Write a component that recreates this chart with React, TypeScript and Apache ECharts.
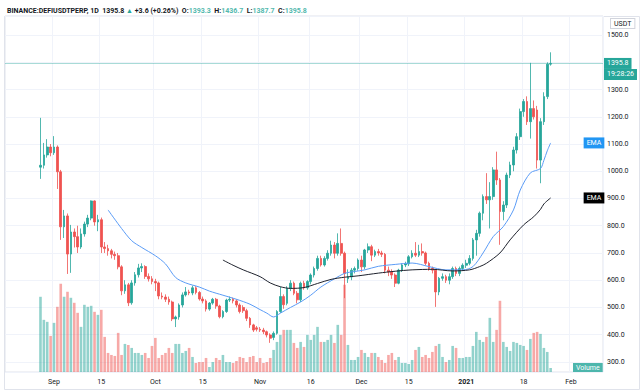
import React, { useEffect, useRef } from 'react';
import * as echarts from 'echarts';

const SYMBOL = 'BINANCE:DEFIUSDTPERP, 1D';
const CHANGE = '+3.6 (+0.26%)';
const COUNTDOWN = '19:28:26';
const CURRENCY = 'USDT';

const AXIS_START = '2020-08-18';
const AXIS_DAYS = 177;
const FIRST_CANDLE = '2020-08-28';

const OPEN = [
  1015, 1022, 1060, 1089, 1068, 1089, 998, 796, 836, 696, 777, 760, 722, 770, 806, 828, 891, 814, 822, 722,
  716, 708, 695, 690, 649, 561, 583, 517, 590, 620, 645, 650, 614, 605, 595, 590, 542, 538, 530, 520,
  458, 465, 509, 546, 557, 553, 572, 555, 531, 524, 494, 516, 530, 505, 466, 485, 527, 530, 524, 509,
  500, 488, 460, 436, 425, 420, 417, 411, 399, 390, 405, 485, 540, 515, 570, 589, 552, 528, 589, 572,
  595, 619, 643, 680, 656, 680, 699, 729, 699, 735, 699, 605, 612, 637, 643, 674, 649, 711, 723, 692,
  705, 700, 695, 637, 630, 619, 589, 637, 656, 660, 686, 699, 692, 705, 700, 662, 643, 637, 557, 607,
  613, 600, 613, 643, 625, 643, 655, 662, 680, 748, 772, 846, 907, 895, 907, 1005, 968, 852, 876, 986,
  1023, 1078, 1127, 1219, 1256, 1182, 1230, 1225, 1041, 1182, 1274, 1393.3,
];
const CLOSE = [
  1022, 1060, 1089, 1068, 1089, 998, 796, 836, 696, 777, 760, 722, 770, 806, 828, 891, 814, 822, 722, 716,
  708, 695, 690, 649, 561, 583, 517, 590, 620, 645, 650, 614, 605, 595, 590, 542, 538, 530, 520, 458,
  465, 509, 546, 557, 553, 572, 555, 531, 524, 494, 516, 530, 505, 466, 485, 527, 530, 524, 509, 485,
  488, 460, 436, 417, 420, 417, 411, 399, 387, 405, 485, 540, 510, 570, 589, 552, 528, 589, 572, 595,
  619, 643, 680, 656, 680, 699, 729, 699, 735, 699, 625, 612, 637, 643, 674, 649, 711, 723, 692, 705,
  700, 695, 637, 630, 619, 589, 637, 656, 660, 686, 699, 692, 705, 700, 662, 643, 637, 557, 607, 613,
  600, 613, 643, 625, 643, 655, 662, 680, 748, 772, 846, 907, 895, 907, 1005, 968, 852, 876, 986, 1023,
  1078, 1127, 1219, 1256, 1182, 1230, 1200, 1041, 1182, 1274, 1393.3, 1395.8,
];
const LOW = [
  972, 1010, 1050, 1055, 1060, 935, 748, 755, 623, 627, 720, 700, 715, 760, 795, 820, 800, 780, 700, 700,
  690, 680, 675, 640, 545, 550, 505, 510, 580, 610, 630, 605, 595, 585, 560, 530, 530, 520, 510, 450,
  428, 455, 500, 540, 545, 545, 548, 525, 515, 485, 488, 510, 495, 460, 460, 480, 520, 515, 500, 478,
  480, 450, 425, 410, 412, 410, 402, 390, 370, 380, 400, 480, 495, 508, 560, 545, 515, 520, 565, 565,
  585, 610, 635, 650, 650, 672, 690, 680, 690, 690, 534, 590, 600, 625, 635, 630, 640, 700, 670, 685,
  690, 685, 625, 615, 605, 575, 585, 630, 648, 652, 680, 685, 685, 690, 655, 635, 625, 502, 545, 598,
  590, 585, 605, 615, 615, 635, 645, 655, 672, 690, 760, 820, 880, 790, 895, 950, 730, 820, 865, 975,
  1000, 1065, 1115, 1200, 1170, 1120, 1190, 1010, 956, 1170, 1265, 1387.7,
];
const HIGH = [
  1196, 1104, 1118, 1100, 1129, 1095, 1005, 858, 845, 803, 790, 800, 790, 815, 840, 893, 893, 840, 830, 740,
  730, 715, 705, 700, 655, 600, 590, 600, 630, 660, 662, 655, 625, 615, 605, 595, 555, 548, 540, 525,
  470, 515, 555, 575, 565, 580, 578, 560, 540, 530, 520, 535, 535, 510, 490, 532, 540, 536, 530, 515,
  508, 495, 465, 440, 432, 428, 425, 415, 405, 412, 490, 576, 548, 578, 600, 595, 560, 595, 598, 600,
  625, 650, 690, 690, 688, 710, 745, 740, 772, 790, 705, 640, 645, 650, 680, 690, 715, 735, 730, 712,
  715, 708, 700, 650, 640, 625, 642, 662, 668, 692, 710, 740, 730, 735, 705, 668, 650, 640, 612, 625,
  620, 625, 650, 650, 650, 662, 675, 692, 755, 785, 852, 915, 993, 960, 1015, 1072, 975, 890, 995, 1035,
  1090, 1140, 1230, 1265, 1275, 1398, 1260, 1240, 1195, 1290, 1400, 1436.7,
];
const VOLUME = [
  75, 52, 50, 36, 49, 65, 88, 75, 80, 74, 69, 59, 45, 67, 65, 66, 60, 57, 62, 35, 19, 17, 16,
  39, 17, 28, 27, 24, 19, 19, 17, 19, 14, 26, 34, 14, 17, 19, 24, 19, 28, 28, 19, 21, 24, 15, 9, 10, 10,
  14, 5, 10, 14, 12, 17, 10, 10, 9, 11, 15, 14, 10, 15, 16, 10, 14, 9, 10, 14, 22, 30, 37, 42,
  42, 42, 29, 24, 30, 25, 37, 32, 37, 45, 30, 30, 32, 37, 29, 47, 37, 87, 27, 12, 12, 15, 22, 19, 15, 19,
  19, 15, 12, 9, 17, 19, 12, 15, 9, 9, 8, 12, 22, 25, 15, 17, 14, 20, 26, 28, 15, 10, 12, 26, 24,
  14, 14, 15, 15, 26, 40, 32, 30, 35, 54, 30, 42, 71, 30, 25, 21, 30, 29, 27, 26, 22, 33, 39, 40, 38, 24, 20, 4,
];

// EMA readings: day offsets (from first candle) and values
const EMA_FAST_DAYS = [20, 24, 27, 30, 34, 37, 40, 43, 47, 50, 54, 58, 62, 65, 67, 69, 71, 74, 77, 80, 83, 87, 90, 93, 96, 100, 105, 110, 115, 120, 125, 128, 131, 134, 137, 140, 142, 145, 148, 149, 150, 151];
const EMA_FAST = [858, 790, 745, 720, 690, 660, 610, 590, 575, 560, 545, 530, 512, 492, 479, 465, 479, 500, 520, 545, 575, 605, 625, 632, 638, 651, 658, 663, 650, 638, 638, 650, 700, 760, 797, 858, 931, 994, 1010, 1040, 1075, 1104];
const EMA_SLOW_DAYS = [54, 57, 60, 65, 68, 71, 74, 78, 82, 86, 90, 94, 100, 105, 110, 116, 122, 127, 130, 132, 136, 139, 143, 146, 148, 149, 151];
const EMA_SLOW = [674, 655, 638, 613, 590, 576, 570, 573, 588, 603, 611, 616, 626, 633, 638, 640, 634, 638, 650, 662, 700, 748, 803, 833, 860, 880, 902];

const TICK_DATES = ['2020-09-01', '2020-09-15', '2020-10-01', '2020-10-15', '2020-11-01', '2020-11-16', '2020-12-01', '2020-12-15', '2021-01-01', '2021-01-18', '2021-02-01'];
const TICK_LABELS = ['Sep', '15', 'Oct', '15', 'Nov', '16', 'Dec', '15', '2021', '18', 'Feb'];

const PRICE_MIN = 263;
const PRICE_MAX = 1570;
const PRICE_STEP = 100;
const VOLUME_MAX = 355;

const UP = '#26a69a';
const DOWN = '#ef5350';
const UP_VOL = 'rgba(38,166,154,0.5)';
const DOWN_VOL = 'rgba(239,83,80,0.5)';
const FONT = 'Roboto';

function buildDates(): string[] {
  const [y, m, d] = AXIS_START.split('-').map(Number);
  const out: string[] = [];
  for (let i = 0; i < AXIS_DAYS; i++) {
    out.push(new Date(Date.UTC(y, m - 1, d + i)).toISOString().slice(0, 10));
  }
  return out;
}

export default function App() {
  const ref = useRef<HTMLDivElement>(null);

  useEffect(() => {
    if (!ref.current) return;
    const chart = echarts.init(ref.current, undefined, { renderer: 'svg' });
    const dates = buildDates();
    const off = dates.indexOf(FIRST_CANDLE);
    const last = OPEN.length - 1;
    const tickSet = new Set(TICK_DATES);
    const tickFn = (_i: number, v: string) => tickSet.has(v);

    const candles = OPEN.map((o, k) => [dates[off + k], o, CLOSE[k], LOW[k], HIGH[k]]);
    const vols = VOLUME.map((v, k) => ({
      value: [dates[off + k], v],
      itemStyle: { color: CLOSE[k] >= OPEN[k] ? UP_VOL : DOWN_VOL },
    }));
    const emaFast = EMA_FAST_DAYS.map((d, i) => [dates[off + d], EMA_FAST[i]]);
    const emaSlow = EMA_SLOW_DAYS.map((d, i) => [dates[off + d], EMA_SLOW[i]]);
    const lastPrice = CLOSE[last];

    const header =
      `{n|${SYMBOL}}  {v|${CLOSE[last].toFixed(1)}} {u|▲} {v|${CHANGE}}  ` +
      `{k|O:}{g|${OPEN[last].toFixed(1)}}  {k|H:}{g|${HIGH[last].toFixed(1)}}  ` +
      `{k|L:}{g|${LOW[last].toFixed(1)}}  {k|C:}{g|${CLOSE[last].toFixed(1)}}`;

    chart.setOption({
      animation: false,
      backgroundColor: '#ffffff',
      textStyle: { fontFamily: FONT },
      title: {
        left: 2,
        top: 2,
        text: header,
        textStyle: {
          fontSize: 7,
          rich: {
            n: { fontSize: 7, fontWeight: 'bold', color: '#131722', fontFamily: FONT },
            v: { fontSize: 7, color: '#131722', fontFamily: FONT },
            u: { fontSize: 7, color: UP, fontFamily: FONT },
            k: { fontSize: 7, fontWeight: 'bold', color: '#131722', fontFamily: FONT },
            g: { fontSize: 7, color: '#53b9ae', fontFamily: FONT },
          },
        },
      },
      grid: {
        left: 5,
        right: 37,
        top: 16,
        bottom: 19,
        show: true,
        borderColor: '#e0e3eb',
        borderWidth: 1,
      },
      graphic: [
        {
          type: 'rect',
          silent: true,
          z: -1,
          shape: { x: 4.5, y: 16.5, width: 635, height: 373 },
          style: { fill: 'none', stroke: '#e0e3eb', lineWidth: 1 },
        },
        {
          type: 'text',
          x: 611,
          y: 19,
          style: {
            text: CURRENCY,
            font: `7px ${FONT}`,
            fill: '#131722',
            backgroundColor: '#ffffff',
            borderColor: '#d1d4dc',
            borderWidth: 1,
            padding: [1, 3],
          },
        },
        {
          type: 'text',
          x: 573,
          y: 363,
          style: {
            text: 'Volume',
            font: `7px ${FONT}`,
            fill: '#ffffff',
            backgroundColor: '#4db6ac',
            padding: [1, 3],
          },
        },
      ],
      xAxis: {
        type: 'category',
        data: dates,
        boundaryGap: true,
        axisLine: { show: false },
        axisTick: { show: false },
        axisLabel: {
          interval: tickFn,
          fontSize: 7,
          color: '#131722',
          margin: 6,
          formatter: (v: string) => {
            const t = TICK_LABELS[TICK_DATES.indexOf(v)] ?? '';
            return t === '2021' ? `{b|${t}}` : t;
          },
          rich: { b: { fontWeight: 'bold', fontSize: 7, color: '#131722' } },
        },
        splitLine: { show: true, interval: tickFn, lineStyle: { color: '#f0f3fa', width: 1 } },
      },
      yAxis: [
        {
          type: 'value',
          position: 'right',
          min: PRICE_MIN,
          max: PRICE_MAX,
          minInterval: PRICE_STEP,
          maxInterval: PRICE_STEP,
          splitNumber: 13,
          axisLine: { show: false },
          axisTick: { show: false },
          axisLabel: {
            showMinLabel: false,
            showMaxLabel: false,
            fontSize: 7,
            color: '#131722',
            margin: 4,
            formatter: (v: number) => (Math.abs(v - 1400) < 1 ? '' : v.toFixed(1)),
          },
          splitLine: { lineStyle: { color: '#f0f3fa', width: 1 } },
        },
        {
          type: 'value',
          min: 0,
          max: VOLUME_MAX,
          show: false,
          splitLine: { show: false },
        },
      ],
      series: [
        {
          name: 'Volume',
          type: 'bar',
          yAxisIndex: 1,
          barWidth: 2.6,
          data: vols,
          z: 1,
        },
        {
          name: 'Price',
          type: 'candlestick',
          yAxisIndex: 0,
          barWidth: 2.2,
          encode: { x: 0, y: [1, 2, 3, 4] },
          data: candles,
          itemStyle: {
            color: UP,
            color0: DOWN,
            borderColor: UP,
            borderColor0: DOWN,
            borderWidth: 0.8,
          },
          z: 2,
          markLine: {
            silent: true,
            symbol: ['none', 'none'],
            data: [{ yAxis: lastPrice }],
            lineStyle: { color: 'rgba(38,166,154,0.4)', width: 1, type: 'solid' },
            label: {
              show: true,
              position: 'end',
              distance: 1,
              color: '#ffffff',
              formatter: () => `{s| }\n{p|${lastPrice.toFixed(1)}}\n{t|${COUNTDOWN}}`,
              rich: {
                s: { fontSize: 7, height: 11, lineHeight: 11 },
                p: { fontSize: 7, height: 11, lineHeight: 11, color: '#ffffff', backgroundColor: UP, padding: [0, 3], fontFamily: FONT },
                t: { fontSize: 7, height: 11, lineHeight: 11, color: '#ffffff', backgroundColor: UP, padding: [0, 3], fontFamily: FONT },
              },
            },
          },
        },
        {
          name: 'EMA fast',
          type: 'line',
          yAxisIndex: 0,
          data: emaFast,
          symbol: 'none',
          smooth: 0.3,
          lineStyle: { color: '#5b9cf6', width: 1 },
          z: 3,
          endLabel: {
            show: true,
            formatter: 'EMA',
            distance: 33,
            fontSize: 7,
            color: '#fff',
            backgroundColor: '#2196f3',
            padding: [2, 3],
          },
        },
        {
          name: 'EMA slow',
          type: 'line',
          yAxisIndex: 0,
          data: emaSlow,
          symbol: 'none',
          smooth: 0.3,
          lineStyle: { color: '#1e222d', width: 1 },
          z: 3,
          endLabel: {
            show: true,
            formatter: 'EMA',
            distance: 33,
            fontSize: 7,
            color: '#fff',
            backgroundColor: '#000000',
            padding: [2, 3],
          },
        },
      ],
    });

    return () => chart.dispose();
  }, []);

  return <div ref={ref} style={{ position: 'absolute', left: 0, top: 0, width: 640, height: 391 }} />;
}
